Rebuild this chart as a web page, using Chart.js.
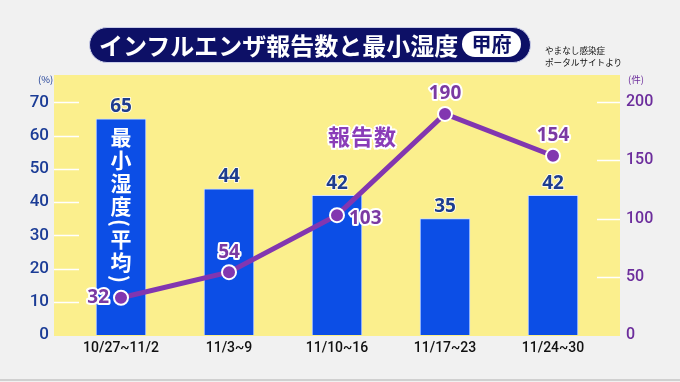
<!DOCTYPE html>
<html><head><meta charset="utf-8">
<script src="https://cdn.jsdelivr.net/npm/chart.js@4.4.0/dist/chart.umd.min.js"></script>
<style>
html,body{margin:0;padding:0;background:#f0f0f0;}
#wrap{position:relative;width:680px;height:382px;overflow:hidden;background:#f1f1f1;}
#wrap canvas{position:absolute;left:0;top:0;}
#title{position:absolute;left:89px;top:27px;width:442px;height:36px;box-sizing:border-box;background:#0d1066;border-radius:18px;border:1.5px solid #c9cde8;color:#fff;font-family:"Noto Sans CJK JP";font-weight:700;font-size:24px;line-height:33px;padding-left:9px;white-space:nowrap;}
#title .tag{position:absolute;left:372px;top:3px;width:59px;height:26px;background:#fff;border-radius:13px;color:#0d1066;font-size:20px;line-height:26px;text-align:center;}
#src{position:absolute;left:545px;top:44px;font-family:"Noto Sans CJK JP";font-size:8.6px;line-height:12px;color:#111;white-space:nowrap;}
.unit{position:absolute;top:72px;font-family:"Noto Sans CJK JP";font-size:9.5px;}
#vt{position:absolute;left:110px;top:127px;writing-mode:vertical-rl;font-family:"Noto Sans CJK JP";font-weight:700;font-size:21px;letter-spacing:2px;color:#fff;line-height:21px;}
#rep{position:absolute;left:328px;top:119px;font-family:"Noto Sans CJK JP";font-weight:700;font-size:22px;letter-spacing:1px;color:#8a3cb8;
 text-shadow:2px 0 #fff,-2px 0 #fff,0 2px #fff,0 -2px #fff,1.5px 1.5px #fff,-1.5px 1.5px #fff,1.5px -1.5px #fff,-1.5px -1.5px #fff;}
#bline{position:absolute;left:0;top:379px;width:680px;height:2px;background:#d0d0d0;}
</style></head>
<body>
<div id="wrap">
<canvas id="c" width="680" height="382"></canvas>
<div id="title">インフルエンザ報告数と最小湿度<span class="tag">甲府</span></div>
<div id="src">やまなし感染症<br>ポータルサイトより</div>
<div class="unit" style="left:38px;color:#1b3c96;">(%)</div>
<div class="unit" style="left:628px;color:#6c2d9c;">(件)</div>
<div id="vt">最小湿度(平均)</div>
<div id="rep">報告数</div>
<div id="bline"></div>
</div>
<script>
const categories = ['10/27~11/2', '11/3~9', '11/10~16', '11/17~23', '11/24~30'];
const humidity = [65, 44, 42, 35, 42];
const reports = [32, 54, 103, 190, 154];
const leftTicks = [0, 10, 20, 30, 40, 50, 60, 70];
const rightTicks = [0, 50, 100, 150, 200];
const leftMax = 78.2;
const rightMax = leftMax * 200 / 70;

const YELLOW = '#fbef8d';
const BLUE = '#0c4ee6';
const PURPLE = '#8236b0';
const EXT = 13;

const bgPlugin = {
  id: 'bg',
  beforeDatasetsDraw(chart) {
    const {ctx, chartArea: a} = chart;
    ctx.save();
    ctx.fillStyle = YELLOW;
    ctx.fillRect(a.left - EXT, a.top, a.right - a.left + 2 * EXT, a.bottom - a.top + 1);
    ctx.strokeStyle = '#ffffff';
    ctx.lineWidth = 1.5;
    const yl = chart.scales.y, yr = chart.scales.y2;
    leftTicks.forEach(v => {
      if (v === 0) return;
      const y = Math.round(yl.getPixelForValue(v)) + 0.5;
      ctx.beginPath(); ctx.moveTo(a.left - EXT, y); ctx.lineTo(a.left + 12, y); ctx.stroke();
    });
    rightTicks.forEach(v => {
      if (v === 0) return;
      const y = Math.round(yr.getPixelForValue(v)) + 0.5;
      ctx.beginPath(); ctx.moveTo(a.right - 10, y); ctx.lineTo(a.right + EXT, y); ctx.stroke();
    });
    ctx.restore();
  }
};

const pointLabelPos = ['left', 'top', 'right', 'top', 'top'];

const labelPlugin = {
  id: 'labels',
  afterDatasetsDraw(chart) {
    const ctx = chart.ctx;
    ctx.save();
    ctx.textBaseline = 'middle';
    ctx.lineJoin = 'round';
    ctx.font = '700 19px "Noto Sans", "DejaVu Sans", sans-serif';
    ctx.textAlign = 'center';
    const bm = chart.getDatasetMeta(1);
    bm.data.forEach((el, i) => {
      const t = String(humidity[i]);
      ctx.strokeStyle = 'rgba(255,255,255,0.8)'; ctx.lineWidth = 2;
      ctx.strokeText(t, el.x, el.y - 12);
      ctx.fillStyle = '#1e3d8f';
      ctx.fillText(t, el.x, el.y - 12);
    });
    const lm = chart.getDatasetMeta(0);
    lm.data.forEach((el, i) => {
      const t = String(reports[i]);
      let x = el.x, y = el.y;
      const p = pointLabelPos[i];
      if (p === 'left') { ctx.textAlign = 'right'; x -= 12; }
      else if (p === 'right') { ctx.textAlign = 'left'; x += 12; y += 3; }
      else { ctx.textAlign = 'center'; y -= 20; }
      ctx.strokeStyle = '#ffffff'; ctx.lineWidth = 4;
      ctx.strokeText(t, x, y);
      ctx.fillStyle = '#7b3aa3';
      ctx.fillText(t, x, y);
    });
    ctx.restore();
  }
};

new Chart(document.getElementById('c'), {
  data: {
    labels: categories,
    datasets: [
      {
        type: 'line', label: '報告数', data: reports, yAxisID: 'y2', order: 0,
        borderColor: PURPLE, borderWidth: 5, backgroundColor: PURPLE,
        pointRadius: 7, pointBackgroundColor: PURPLE, pointBorderColor: '#ffffff', pointBorderWidth: 2,
        tension: 0
      },
      {
        type: 'bar', label: '最小湿度(平均)', data: humidity, yAxisID: 'y', order: 1,
        backgroundColor: BLUE, borderColor: '#cfe0ff', borderWidth: 1,
        barThickness: 50
      }
    ]
  },
  options: {
    responsive: false, animation: false,
    layout: {padding: {top: 75, left: 0, right: 0, bottom: 0}},
    plugins: {legend: {display: false}, tooltip: {enabled: false}, title: {display: false}},
    scales: {
      x: {
        grid: {display: false, drawTicks: false}, border: {display: false},
        ticks: {color: '#111', font: {family: 'Roboto', size: 14, weight: 500}, padding: 5, maxRotation: 0},
        afterFit(s) { s.height = 47; }
      },
      y: {
        position: 'left', min: 0, max: leftMax,
        grid: {display: false, drawTicks: false}, border: {display: false},
        afterBuildTicks(s) { s.ticks = leftTicks.map(v => ({value: v})); },
        ticks: {color: '#1b3c96', font: {family: 'Roboto', size: 17, weight: 500}, padding: 18},
        afterFit(s) { s.width = 67; }
      },
      y2: {
        position: 'right', min: 0, max: rightMax,
        grid: {display: false, drawTicks: false}, border: {display: false},
        afterBuildTicks(s) { s.ticks = rightTicks.map(v => ({value: v})); },
        ticks: {color: '#6c2d9c', font: {family: 'Roboto', size: 16, weight: 500}, padding: 19},
        afterFit(s) { s.width = 73; }
      }
    }
  },
  plugins: [bgPlugin, labelPlugin]
});
</script>
</body></html>
